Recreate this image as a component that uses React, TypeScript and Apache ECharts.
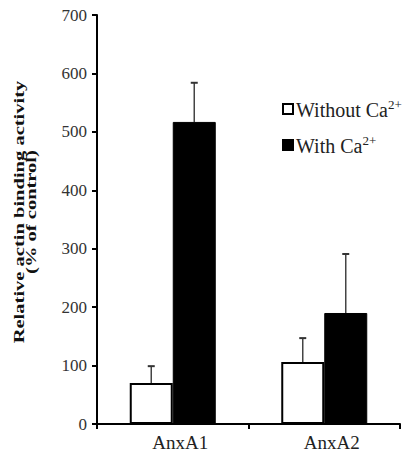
import React, { useEffect, useRef } from "react";
import * as echarts from "echarts";

const categories = ["AnxA1", "AnxA2"];
const withoutCa = [70, 106];
const withCa = [517, 190];
const withoutErr = [29, 41];
const withErr = [67, 101];
const yTicks = { min: 0, max: 700, interval: 100 };

const SERIF = "Liberation Serif";

function errSeries(name: string, vals: number[], errs: number[], offset: number) {
  return {
    type: "custom",
    name,
    z: 5,
    data: categories.map((_, i) => [i, vals[i], vals[i] + errs[i]]),
    encode: { x: 0, y: [1, 2] },
    renderItem: (params: any, api: any) => {
      const base = api.coord([api.value(0), api.value(1)]);
      const top = api.coord([api.value(0), api.value(2)]);
      const cx = base[0] + offset;
      return {
        type: "group",
        children: [
          { type: "line", shape: { x1: cx, y1: base[1], x2: cx, y2: top[1] }, style: { stroke: "#444", lineWidth: 1.5 } },
          { type: "line", shape: { x1: cx - 3.5, y1: top[1], x2: cx + 3.5, y2: top[1] }, style: { stroke: "#333", lineWidth: 2 } },
        ],
      };
    },
  };
}

export default function App() {
  const ref = useRef<HTMLDivElement>(null);
  useEffect(() => {
    if (!ref.current) return;
    const chart = echarts.init(ref.current, null, { renderer: "svg" });
    chart.setOption({
      animation: false,
      backgroundColor: "#fff",
      grid: { left: 97, right: 8, top: 15, bottom: 35, containLabel: false },
      legend: {
        orient: "vertical",
        left: 277,
        top: 93,
        itemWidth: 10,
        itemHeight: 10,
        itemGap: 14,
        icon: "rect",
        data: [
          { name: "Without Ca2+", itemStyle: { color: "#fff", borderColor: "#000", borderWidth: 2 } },
          { name: "With Ca2+", itemStyle: { color: "#000" } },
        ],
        formatter: (n: string) => (n === "Without Ca2+" ? "{a|Without Ca}{s|2+}" : "{a|With Ca}{s|2+}"),
        textStyle: {
          padding: [0, 0, 0, -2],
          rich: {
            a: { fontFamily: SERIF, fontSize: 20, color: "#222", lineHeight: 22, verticalAlign: "bottom" },
            s: { fontFamily: SERIF, fontSize: 13, color: "#222", lineHeight: 12, verticalAlign: "top" },
          },
        },
      },
      graphic: [
        {
          type: "text",
          x: 25,
          y: 212,
          rotation: Math.PI / 2,
          scaleX: 1.08,
          scaleY: 0.8,
          style: {
            text: "Relative actin binding activity\n(% of control)",
            fontFamily: SERIF,
            fontWeight: "bold",
            fontSize: 19,
            align: "center",
            verticalAlign: "middle",
            lineHeight: 16,
            fill: "#111",
          },
        },
      ],
      xAxis: {
        type: "category",
        data: categories,
        axisLine: { lineStyle: { color: "#000", width: 2 } },
        axisTick: { show: true, length: 5, lineStyle: { color: "#000", width: 2 } },
        axisLabel: { fontFamily: SERIF, fontSize: 19, color: "#222", margin: 9, padding: [0, 0, 0, 15] },
      },
      yAxis: {
        type: "value",
        min: yTicks.min,
        max: yTicks.max,
        interval: yTicks.interval,
        splitLine: { show: false },
        axisLine: { show: true, lineStyle: { color: "#000", width: 2 } },
        axisTick: { show: true, length: 5, lineStyle: { color: "#000", width: 2 } },
        axisLabel: { fontFamily: SERIF, fontSize: 17, color: "#333", margin: 10 },
      },
      series: [
        {
          type: "bar",
          name: "Without Ca2+",
          data: withoutCa,
          barWidth: 43,
          barGap: "0%",
          itemStyle: { color: "#fff", borderColor: "#000", borderWidth: 2 },
        },
        {
          type: "bar",
          name: "With Ca2+",
          data: withCa,
          barWidth: 43,
          barGap: "0%",
          itemStyle: { color: "#000", borderColor: "#000", borderWidth: 1 },
        },
        errSeries("errWithout", withoutCa, withoutErr, -21.5),
        errSeries("errWith", withCa, withErr, 21.5),
      ],
    });
    return () => chart.dispose();
  }, []);
  return <div ref={ref} style={{ position: "absolute", left: 0, top: 0, width: 408, height: 459 }} />;
}
